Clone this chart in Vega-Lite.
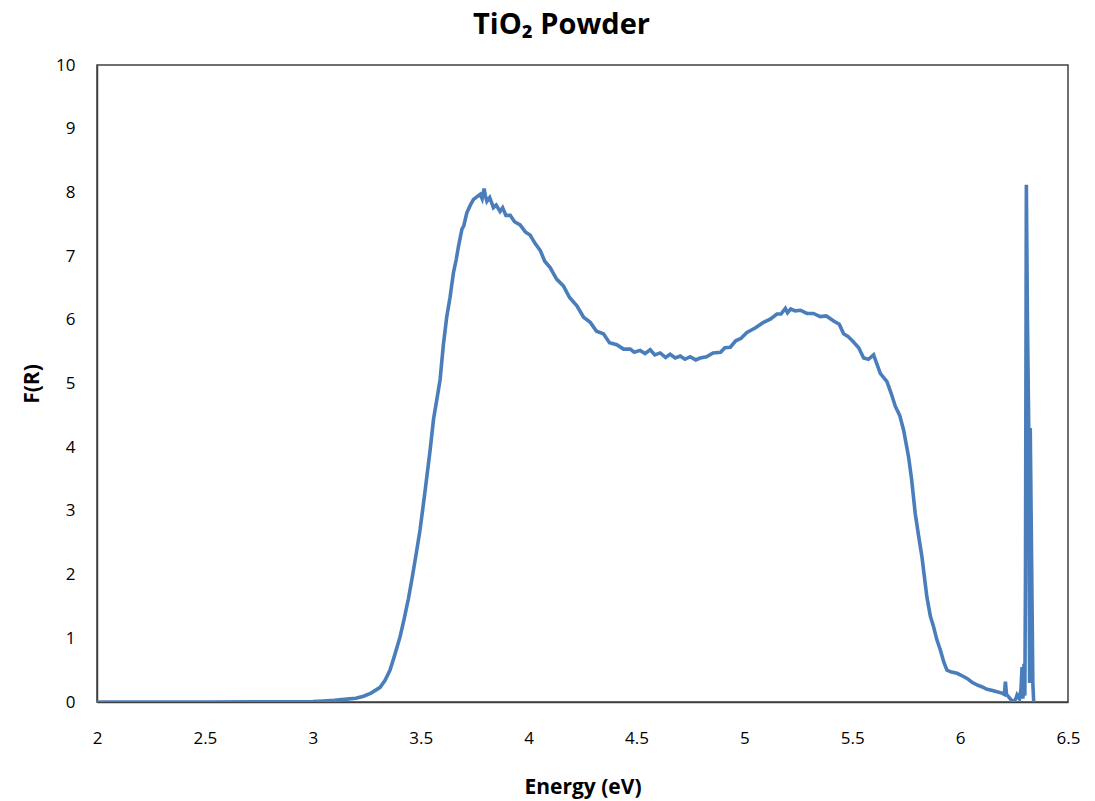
{
  "$schema": "https://vega.github.io/schema/vega-lite/v6.json",
  "autosize": "none",
  "width": 971,
  "height": 637,
  "padding": {"left": 97, "top": 65, "right": 27, "bottom": 99},
  "background": "white",
  "config": {
    "view": {"stroke": "#404040", "strokeWidth": 1.5},
    "font": "Open Sans"
  },
  "title": {
    "text": "TiO₂ Powder",
    "font": "Open Sans",
    "fontSize": 29,
    "fontWeight": "bold",
    "color": "#000000",
    "anchor": "middle",
    "dx": -21,
    "offset": -7,
    "baseline": "alphabetic"
  },
  "data": {
    "values": [
      {"E": 2.0, "F": 0},
      {"E": 2.5, "F": 0},
      {"E": 2.8, "F": 0.003},
      {"E": 3.0, "F": 0.008},
      {"E": 3.05, "F": 0.015},
      {"E": 3.1, "F": 0.025},
      {"E": 3.158, "F": 0.045},
      {"E": 3.2, "F": 0.06},
      {"E": 3.235, "F": 0.09},
      {"E": 3.27, "F": 0.14},
      {"E": 3.312, "F": 0.23},
      {"E": 3.335, "F": 0.34},
      {"E": 3.358, "F": 0.5},
      {"E": 3.38, "F": 0.74},
      {"E": 3.405, "F": 1.03},
      {"E": 3.425, "F": 1.33},
      {"E": 3.443, "F": 1.62},
      {"E": 3.459, "F": 1.92},
      {"E": 3.478, "F": 2.3},
      {"E": 3.497, "F": 2.7},
      {"E": 3.52, "F": 3.3},
      {"E": 3.544, "F": 3.96},
      {"E": 3.56, "F": 4.45},
      {"E": 3.575, "F": 4.75},
      {"E": 3.59, "F": 5.06},
      {"E": 3.605, "F": 5.6},
      {"E": 3.621, "F": 6.05},
      {"E": 3.636, "F": 6.35},
      {"E": 3.652, "F": 6.74},
      {"E": 3.665, "F": 6.95},
      {"E": 3.675, "F": 7.15},
      {"E": 3.691, "F": 7.42},
      {"E": 3.7, "F": 7.48},
      {"E": 3.714, "F": 7.68},
      {"E": 3.73, "F": 7.8},
      {"E": 3.745, "F": 7.89},
      {"E": 3.76, "F": 7.93},
      {"E": 3.776, "F": 7.97},
      {"E": 3.785, "F": 7.9},
      {"E": 3.794, "F": 8.06},
      {"E": 3.8, "F": 7.95},
      {"E": 3.807, "F": 7.86},
      {"E": 3.82, "F": 7.92},
      {"E": 3.837, "F": 7.76},
      {"E": 3.85, "F": 7.8},
      {"E": 3.868, "F": 7.7},
      {"E": 3.88, "F": 7.76},
      {"E": 3.895, "F": 7.64},
      {"E": 3.915, "F": 7.64},
      {"E": 3.935, "F": 7.54},
      {"E": 3.961, "F": 7.49},
      {"E": 3.985, "F": 7.38},
      {"E": 4.007, "F": 7.33},
      {"E": 4.03, "F": 7.2},
      {"E": 4.054, "F": 7.09},
      {"E": 4.075, "F": 6.92},
      {"E": 4.1, "F": 6.82},
      {"E": 4.13, "F": 6.64},
      {"E": 4.162, "F": 6.53},
      {"E": 4.19, "F": 6.35},
      {"E": 4.224, "F": 6.22},
      {"E": 4.255, "F": 6.04},
      {"E": 4.286, "F": 5.96},
      {"E": 4.315, "F": 5.82},
      {"E": 4.347, "F": 5.78},
      {"E": 4.375, "F": 5.64},
      {"E": 4.409, "F": 5.61},
      {"E": 4.44, "F": 5.54},
      {"E": 4.471, "F": 5.54},
      {"E": 4.49, "F": 5.49},
      {"E": 4.517, "F": 5.52},
      {"E": 4.54, "F": 5.47},
      {"E": 4.564, "F": 5.53},
      {"E": 4.585, "F": 5.45},
      {"E": 4.61, "F": 5.48},
      {"E": 4.635, "F": 5.41},
      {"E": 4.656, "F": 5.46},
      {"E": 4.68, "F": 5.4},
      {"E": 4.703, "F": 5.43},
      {"E": 4.725, "F": 5.38},
      {"E": 4.749, "F": 5.42},
      {"E": 4.775, "F": 5.37},
      {"E": 4.795, "F": 5.4},
      {"E": 4.825, "F": 5.42},
      {"E": 4.855, "F": 5.48},
      {"E": 4.89, "F": 5.49},
      {"E": 4.91, "F": 5.56},
      {"E": 4.935, "F": 5.57},
      {"E": 4.96, "F": 5.67},
      {"E": 4.985, "F": 5.71},
      {"E": 5.012, "F": 5.8},
      {"E": 5.05, "F": 5.87},
      {"E": 5.089, "F": 5.96},
      {"E": 5.12, "F": 6.01},
      {"E": 5.151, "F": 6.09},
      {"E": 5.17, "F": 6.09},
      {"E": 5.19, "F": 6.18},
      {"E": 5.2, "F": 6.11},
      {"E": 5.215, "F": 6.17},
      {"E": 5.236, "F": 6.14},
      {"E": 5.26, "F": 6.15},
      {"E": 5.29, "F": 6.1},
      {"E": 5.32, "F": 6.1},
      {"E": 5.352, "F": 6.05},
      {"E": 5.38, "F": 6.06},
      {"E": 5.414, "F": 5.98},
      {"E": 5.44, "F": 5.93},
      {"E": 5.46, "F": 5.78},
      {"E": 5.48, "F": 5.74},
      {"E": 5.506, "F": 5.65},
      {"E": 5.53, "F": 5.56},
      {"E": 5.553, "F": 5.4},
      {"E": 5.575, "F": 5.38},
      {"E": 5.599, "F": 5.45},
      {"E": 5.615, "F": 5.3},
      {"E": 5.63, "F": 5.16},
      {"E": 5.661, "F": 5.03},
      {"E": 5.68, "F": 4.85},
      {"E": 5.7, "F": 4.64},
      {"E": 5.72, "F": 4.5},
      {"E": 5.738, "F": 4.27},
      {"E": 5.761, "F": 3.85},
      {"E": 5.775, "F": 3.5},
      {"E": 5.792, "F": 2.96},
      {"E": 5.808, "F": 2.6},
      {"E": 5.823, "F": 2.28},
      {"E": 5.846, "F": 1.65},
      {"E": 5.862, "F": 1.35},
      {"E": 5.877, "F": 1.18},
      {"E": 5.892, "F": 0.98},
      {"E": 5.908, "F": 0.82},
      {"E": 5.925, "F": 0.62},
      {"E": 5.939, "F": 0.5},
      {"E": 5.96, "F": 0.47},
      {"E": 5.986, "F": 0.45},
      {"E": 6.005, "F": 0.42},
      {"E": 6.032, "F": 0.37},
      {"E": 6.055, "F": 0.31},
      {"E": 6.078, "F": 0.27},
      {"E": 6.1, "F": 0.24},
      {"E": 6.125, "F": 0.2},
      {"E": 6.15, "F": 0.18},
      {"E": 6.171, "F": 0.16},
      {"E": 6.194, "F": 0.14},
      {"E": 6.205, "F": 0.12},
      {"E": 6.21, "F": 0.32},
      {"E": 6.215, "F": 0.12},
      {"E": 6.225, "F": 0.08},
      {"E": 6.24, "F": 0.02},
      {"E": 6.248, "F": 0.0},
      {"E": 6.258, "F": 0.05},
      {"E": 6.264, "F": 0.11},
      {"E": 6.275, "F": 0.05},
      {"E": 6.282, "F": 0.2},
      {"E": 6.287, "F": 0.55},
      {"E": 6.291, "F": 0.05},
      {"E": 6.296, "F": 0.6},
      {"E": 6.3, "F": 0.1},
      {"E": 6.303, "F": 2.0},
      {"E": 6.307, "F": 8.12},
      {"E": 6.312, "F": 6.0},
      {"E": 6.318, "F": 4.3},
      {"E": 6.322, "F": 0.3},
      {"E": 6.325, "F": 4.3},
      {"E": 6.332, "F": 2.0},
      {"E": 6.337, "F": 0.3},
      {"E": 6.341, "F": 0.0}
    ]
  },
  "mark": {"type": "line", "color": "#4a7ebb", "strokeWidth": 3.6, "clip": true},
  "encoding": {
    "x": {
      "field": "E",
      "type": "quantitative",
      "scale": {"domain": [2, 6.5], "nice": false, "zero": false},
      "axis": {
        "title": "Energy (eV)",
        "values": [2, 2.5, 3, 3.5, 4, 4.5, 5, 5.5, 6, 6.5],
        "labelExpr": "'' + datum.value",
        "grid": false,
        "ticks": false,
        "domainColor": "#404040",
        "domainWidth": 1.5,
        "labelFont": "Open Sans",
        "labelFontSize": 17,
        "labelColor": "#000000",
        "labelPadding": 28,
        "labelFlush": false,
        "titleFont": "Open Sans",
        "titleFontSize": 21,
        "titleFontWeight": "bold",
        "titleColor": "#000000",
        "titlePadding": 30
      }
    },
    "y": {
      "field": "F",
      "type": "quantitative",
      "scale": {"domain": [0, 10], "nice": false},
      "axis": {
        "title": "F(R)",
        "values": [0, 1, 2, 3, 4, 5, 6, 7, 8, 9, 10],
        "grid": false,
        "ticks": false,
        "domainColor": "#404040",
        "domainWidth": 1.5,
        "labelFont": "Open Sans",
        "labelFontSize": 17,
        "labelColor": "#000000",
        "labelPadding": 22,
        "labelFlush": false,
        "titleFont": "Open Sans",
        "titleFontSize": 21,
        "titleFontWeight": "bold",
        "titleColor": "#000000",
        "titlePadding": 13
      }
    }
  }
}
